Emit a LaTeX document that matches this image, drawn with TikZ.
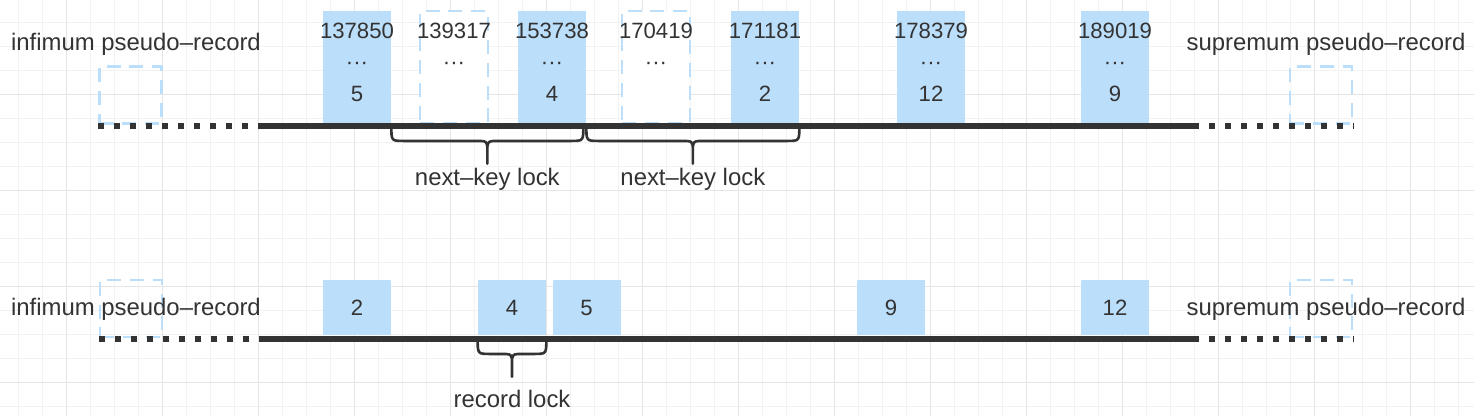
\documentclass[tikz,border=0pt]{standalone}
\usepackage{fontspec}
\setmainfont{Liberation Sans}
\usetikzlibrary{calc}
\definecolor{ink}{HTML}{333333}
\definecolor{recblue}{HTML}{BBDEFB}
\definecolor{gridminor}{HTML}{F2F2F2}
\definecolor{gridmajor}{HTML}{E5E5E5}
\tikzset{%
rec/.style={fill=recblue,minimum width=1.36cm,minimum height=2.24cm,inner sep=0},
gaprec/.style={rec,fill=white,draw=recblue,line width=1.4pt,dash pattern=on 8pt off 5pt},
rowrec/.style={fill=recblue,minimum width=1.36cm,minimum height=1.1cm,inner sep=0,text=ink,font=\fontsize{12.6}{15}\selectfont},
pseudo/.style={draw=recblue,line width=1.4pt,dash pattern=on 8pt off 5pt,minimum width=1.24cm,minimum height=1.14cm,inner sep=0},
keytext/.style={text=ink,inner sep=0,anchor=base,font=\fontsize{12.6}{15}\selectfont},
pseudolabel/.style={text=ink,inner sep=0,anchor=base,font=\fontsize{13.6}{16}\selectfont},
solidline/.style={draw=ink,line width=3.6pt},
dotline/.style={draw=ink,line width=3.6pt,dash pattern=on 3.4pt off 5.7pt},
gridline/.style={draw=gridminor,line width=0.6pt},
gridmajorline/.style={draw=gridmajor,line width=0.8pt},
lockbrace/.style={draw=ink,line width=1.5pt,line cap=round,line join=round,
  to path={let \p1=(\tikztostart),\p2=(\tikztotarget),\p3=($(\p1)!.5!(\p2)$) in
    (\p1) .. controls (\x1,\y1-8.5pt) .. (\x1+7pt,\y1-8.5pt)
    -- (\x3-7pt,\y3-8.5pt) .. controls (\x3,\y3-8.5pt) .. (\x3,\y3-14pt)
    -- (\x3,\y3-21.5pt) \tikztonodes
    -- (\x3,\y3-14pt) .. controls (\x3,\y3-8.5pt) .. (\x3+7pt,\y3-8.5pt)
    -- (\x2-7pt,\y2-8.5pt) .. controls (\x2,\y2-8.5pt) .. (\p2)}},
locklabel/.style={pos=1,anchor=north,yshift=-1.5pt,text=ink,inner sep=0,font=\fontsize{13.6}{16}\selectfont}
}

\begin{document}
\begin{tikzpicture}[x=0.02cm,y=-0.02cm]
\fill[white] (0,0) rectangle (1474,416);
\useasboundingbox (0,0) rectangle (1474,416);

% grid
\foreach \gx in {0,...,60} \draw[gridline] (18.7+24*\gx,0) -- (18.7+24*\gx,416);
\foreach \gy in {0,...,16} \draw[gridline] (0,22.7+24*\gy) -- (1474,22.7+24*\gy);
\foreach \gx in {0,...,14} \draw[gridmajorline] (66.7+96*\gx,0) -- (66.7+96*\gx,416);
\foreach \gy in {1,...,4} \draw[gridmajorline] (0,-1.3+96*\gy) -- (1474,-1.3+96*\gy);

\coordinate (topln) at (0,126);
\coordinate (lowln) at (0,339);

% next-key locks
\node[pseudolabel] (inflbl1) at (136,50) {infimum pseudo–record};
\node[pseudolabel] (suplbl1) at (1326,50) {supremum pseudo–record};
\node[pseudo] (inf1) at (130.5,95) {};
\node[pseudo] (sup1) at (1321,95) {};
\foreach \x/\k/\v/\s in {357/137850/5/rec,454/139317/{}/gaprec,552/153738/4/rec,656/170419/{}/gaprec,765/171181/2/rec,931/178379/12/rec,1115/189019/9/rec}{
  \node[\s] (r\k) at (\x,67) {};
  \node[keytext] (k\k) at (\x,38.3) {\k};
  \node[keytext] (d\k) at (\x,69) {···};
  \node[keytext] (v\k) at (\x,101.7) {\v};
}
\coordinate (solidend1) at ([xshift=0.14cm]suplbl1.west |- topln);
\draw[dotline] (inf1.west |- topln) -- (inflbl1.east |- topln);
\draw[solidline] (inflbl1.east |- topln) -- (solidend1);
\draw[dotline] (solidend1) -- (sup1.east |- topln);

\coordinate (nk1s) at (r137850.south east |- topln);
\coordinate (nk1e) at ([xshift=-0.06cm]r153738.south east |- topln);
\coordinate (nk2s) at (r153738.south east |- topln);
\coordinate (nk2e) at (r171181.south east |- topln);
\draw[lockbrace] (nk1s) to node[locklabel] {next–key lock} (nk1e);
\draw[lockbrace] (nk2s) to node[locklabel] {next–key lock} (nk2e);

% record lock
\node[pseudo] (inf2) at (131,308.5) {};
\node[pseudo] (sup2) at (1321,308.5) {};
\node[pseudolabel] (inflbl2) at (136,315) {infimum pseudo–record};
\node[pseudolabel] (suplbl2) at (1326,315) {supremum pseudo–record};
\foreach \x/\v in {357/2,512/4,586.5/5,891/9,1115/12}
  \node[rowrec] (w\v) at (\x,307.5) {\v};
\coordinate (solidend2) at ([xshift=0.14cm]suplbl2.west |- lowln);
\draw[dotline] (inf2.west |- lowln) -- (inflbl2.east |- lowln);
\draw[solidline] (inflbl2.east |- lowln) -- (solidend2);
\draw[dotline] (solidend2) -- (sup2.east |- lowln);

\coordinate (rls) at (w4.south west |- lowln);
\coordinate (rle) at (w4.south east |- lowln);
\draw[lockbrace] (rls) to node[locklabel,yshift=-5.5pt] {record lock} (rle);
\end{tikzpicture}
\end{document}
